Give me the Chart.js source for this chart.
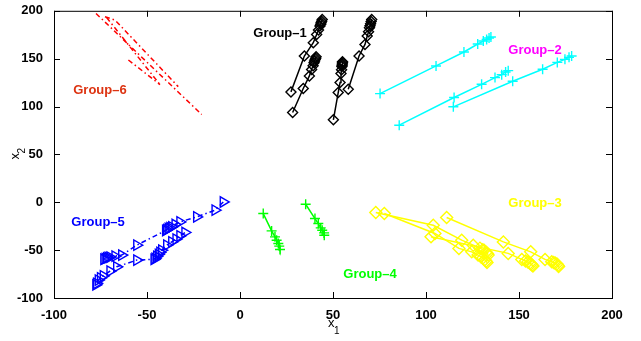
<!DOCTYPE html>
<html>
<head>
<meta charset="utf-8">
<script src="https://cdn.jsdelivr.net/npm/chart.js@4.4.0/dist/chart.umd.min.js"></script>
<style>
html, body { margin: 0; padding: 0; background: #fff; }
</style>
</head>
<body>
<canvas id="myChart" width="641" height="341"></canvas>
<script>
// tick values
const ticksX = [-100, -50, 0, 50, 100, 150, 200];
const ticksY = [-100, -50, 0, 50, 100, 150, 200];

// Group-1 (black diamonds)
const g1a = [[27.4,115.3],[34.6,152.8],[39.4,166.7],[41.2,175.3],[42.2,180],[43.0,184],[43.4,186],[43.6,187.5],[43.9,189],[44.2,191]];
const g1b = [[28.3,93.8],[34.0,118.8],[37.3,132],[38.5,138.8],[39.3,142.5],[39.8,145.8],[40.1,147.5],[40.4,149],[40.7,150.5],[40.9,152]];
const g1c = [[50.2,86.1],[52.8,114.6],[53.8,125],[54.3,134.4],[54.6,138.5],[54.8,141.7],[54.9,143],[55.0,144.5],[55.1,145.8],[55.1,146.9]];
const g1d = [[58.2,118],[64.0,152.8],[67.2,164.9],[68.4,173.6],[69.1,178],[69.6,182.3],[69.9,184.5],[70.2,186.5],[70.5,188.8],[70.8,190.9]];

// Group-2 (cyan crosses)
const g2a = [[75.3,113.5],[105.4,142.4],[120.4,157],[127.8,165.3],[130.8,168.4],[132.6,170.1],[133.9,171.6],[134.9,172.6]];
const g2b = [[85.6,80.5],[115.1,109.4],[129.9,123.2],[137.1,130.2],[140.7,133.3],[142.8,136.1],[144.2,137.5]];
const g2c = [[114.7,99.7],[146.6,126.4],[162.7,138.9],[170.6,146.1],[174.7,149.3],[176.9,151.4],[178.3,152.8]];

// Group-3 (yellow diamonds)
const g3a = [[73.0,-10.7],[103.9,-24],[119.2,-39.6],[125.4,-44.8],[129.0,-47.9],[130.5,-49.5],[131.2,-50],[132.3,-52.1],[133,-53.5],[133.4,-55]];
const g3b = [[77.6,-11.8],[104.8,-32.6],[117.7,-48.2],[124.6,-51.8],[128,-55.2],[129.5,-56.8],[130.6,-58.3],[131.6,-60],[132.3,-61.5],[132.8,-63]];
const g3c = [[102.7,-36.1],[144.2,-53.4],[151.5,-59.7],[153.5,-61.3],[154.8,-62.5],[155.8,-63.6],[156.5,-64.6],[157.1,-65.7],[157.5,-66.7]];
const g3d = [[111.1,-15.9],[141.6,-41.4],[156.3,-51.8],[164,-59.7],[167.6,-62.2],[168.6,-62.9],[169.4,-63.5],[170.4,-64.6],[171,-66.1],[171.3,-67]];

// Group-4 (green crosses)
const g4a = [[12.5,-11.8],[17.0,-29.9],[18.8,-36.1],[19.7,-39.6],[20.6,-43],[21.1,-45.8],[21.5,-49.3]];
const g4b = [[35.3,-2.1],[40.3,-17],[42.1,-22.2],[43.4,-26.8],[44.2,-29.2],[45.2,-32],[45.3,-34.4]];

// Group-5 (blue triangles, dash-dot)
const g5a = [[-9.0,0.3],[-13.4,-8.3],[-23.3,-15.3],[-32.3,-20.5],[-34.9,-23.2],[-36.7,-25.7],[-37.7,-26.6],[-38.6,-27.4],[-39.4,-28.6],[-40,-29.5],[-55.5,-44.8],[-63.6,-55.2],[-67.2,-56.3],[-69.9,-57.3],[-70.9,-57.7],[-71.7,-58.0],[-72.5,-58.8],[-73.2,-59.5]];
const g5b = [[-29.6,-31.6],[-32.3,-35.1],[-34.4,-38.5],[-36.7,-41.4],[-39.4,-44.8],[-42.1,-50],[-43.1,-52.3],[-43.9,-54.5],[-44.8,-56.5],[-45.7,-58.6],[-46.2,-59.6],[-55.5,-60.4],[-66.3,-67.4],[-69.9,-71.9],[-73.5,-76.8],[-75,-79],[-76.2,-81.3],[-77.1,-84.7],[-77.5,-86.2]];

// Group-6 (red dash-dot, no markers)
const g6a = [[-77.4,197.2],[-20.6,91.7]];
const g6b = [[-72.6,193.8],[-67.2,190.3],[-33.2,120.8]];
const g6c = [[-71.7,193],[-43,122.9]];
const g6d = [[-60,148.6],[-43,122.9]];

// group labels
const groupNames = ['Group\u20131', 'Group\u20132', 'Group\u20133', 'Group\u20134', 'Group\u20135', 'Group\u20136'];
const groupLabelX = [21.5, 158.6, 158.6, 69.9, -76.3, -75.3];
const groupLabelY = [176, 158.3, -1, -75, -20.8, 116.7];
const groupColors = ['#000000', '#ff00ff', '#ffff00', '#00ff00', '#0000ff', '#dd3311'];

const dashDot = [5, 3, 1.5, 3];

function traj(pts, color, style, rot, dash, r) {
    return {
        data: pts.map(p => ({x: p[0], y: p[1]})),
        showLine: true,
        borderColor: color,
        borderWidth: 1.5,
        borderDash: dash || [],
        pointStyle: style || 'circle',
        pointRadius: style ? (r || 5) : 0,
        pointHoverRadius: style ? (r || 5) : 0,
        pointBorderColor: color,
        pointBackgroundColor: 'rgba(0,0,0,0)',
        pointBorderWidth: 1.4,
        pointRotation: rot || 0,
        tension: 0,
    };
}

const datasets = [
    traj(g1a, '#000', 'rectRot'), traj(g1b, '#000', 'rectRot'),
    traj(g1c, '#000', 'rectRot'), traj(g1d, '#000', 'rectRot'),
    traj(g2a, '#00ffff', 'cross'), traj(g2b, '#00ffff', 'cross'), traj(g2c, '#00ffff', 'cross'),
    traj(g3a, '#ffff00', 'rectRot', 0, null, 6), traj(g3b, '#ffff00', 'rectRot', 0, null, 6),
    traj(g3c, '#ffff00', 'rectRot', 0, null, 6), traj(g3d, '#ffff00', 'rectRot', 0, null, 6),
    traj(g4a, '#00ff00', 'cross'), traj(g4b, '#00ff00', 'cross'),
    traj(g5a, '#0000ff', 'triangle', 90, dashDot, 6), traj(g5b, '#0000ff', 'triangle', 90, dashDot, 6),
    traj(g6a, '#ff0000', null, 0, dashDot), traj(g6b, '#ff0000', null, 0, dashDot),
    traj(g6c, '#ff0000', null, 0, dashDot), traj(g6d, '#ff0000', null, 0, dashDot),
];

// box, inward ticks, axis titles and group labels
const boxPlugin = {
    id: 'box',
    afterDraw(c) {
        const ctx = c.ctx, a = c.chartArea, x = c.scales.x, y = c.scales.y;
        ctx.save();
        ctx.strokeStyle = '#000';
        ctx.lineWidth = 1;
        ctx.strokeRect(a.left + 0.5, a.top + 0.5, a.right - a.left, a.bottom - a.top);
        ctx.beginPath();
        ticksX.forEach(v => {
            const px = Math.round(x.getPixelForValue(v)) + 0.5;
            ctx.moveTo(px, a.bottom); ctx.lineTo(px, a.bottom - 6);
            ctx.moveTo(px, a.top); ctx.lineTo(px, a.top + 6);
        });
        ticksY.forEach(v => {
            const py = Math.round(y.getPixelForValue(v)) + 0.5;
            ctx.moveTo(a.left, py); ctx.lineTo(a.left + 6, py);
            ctx.moveTo(a.right, py); ctx.lineTo(a.right - 6, py);
        });
        ctx.stroke();

        // axis titles with subscripts
        ctx.fillStyle = '#000';
        ctx.textBaseline = 'alphabetic';
        ctx.textAlign = 'left';
        const cx = (a.left + a.right) / 2;
        ctx.font = '13px "Liberation Sans Narrow", "Liberation Sans", sans-serif';
        ctx.fillText('x', cx - 5, 327);
        ctx.font = '10px "Liberation Sans Narrow", "Liberation Sans", sans-serif';
        ctx.fillText('1', cx + 1, 334);
        const cy = (a.top + a.bottom) / 2;
        ctx.translate(19, cy + 5);
        ctx.rotate(-Math.PI / 2);
        ctx.font = '13px "Liberation Sans Narrow", "Liberation Sans", sans-serif';
        ctx.fillText('x', 0, 0);
        ctx.font = '10px "Liberation Sans Narrow", "Liberation Sans", sans-serif';
        ctx.fillText('2', 6, 6);
        ctx.setTransform(1, 0, 0, 1, 0, 0);

        ctx.font = 'bold 13px "Liberation Sans Narrow", "Liberation Sans", sans-serif';
        ctx.textAlign = 'center';
        ctx.textBaseline = 'middle';
        groupNames.forEach((n, i) => {
            ctx.fillStyle = groupColors[i];
            ctx.fillText(n, x.getPixelForValue(groupLabelX[i]), y.getPixelForValue(groupLabelY[i]));
        });
        ctx.restore();
    }
};

const tickFont = {family: '"Liberation Sans Narrow", "Liberation Sans", sans-serif', size: 13, weight: 'bold'};

const chart = new Chart(document.getElementById('myChart').getContext('2d'), {
    type: 'scatter',
    data: {datasets: datasets},
    options: {
        responsive: false,
        animation: false,
        events: [],
        layout: {padding: {top: 10, right: 29, left: 0, bottom: 0}},
        plugins: {legend: {display: false}, tooltip: {enabled: false}},
        scales: {
            x: {
                type: 'linear', min: -100, max: 200,
                afterBuildTicks: s => { s.ticks = ticksX.map(v => ({value: v})); },
                afterFit: s => { s.height = 43; },
                grid: {display: false},
                border: {display: false},
                ticks: {font: tickFont, color: '#000', padding: 2, maxRotation: 0, autoSkip: false},
            },
            y: {
                type: 'linear', min: -100, max: 200,
                afterBuildTicks: s => { s.ticks = ticksY.map(v => ({value: v})); },
                afterFit: s => { s.width = 54; },
                grid: {display: false},
                border: {display: false},
                ticks: {font: tickFont, color: '#000', padding: 3, autoSkip: false},
            },
        },
    },
    plugins: [boxPlugin],
});
</script>
</body>
</html>
